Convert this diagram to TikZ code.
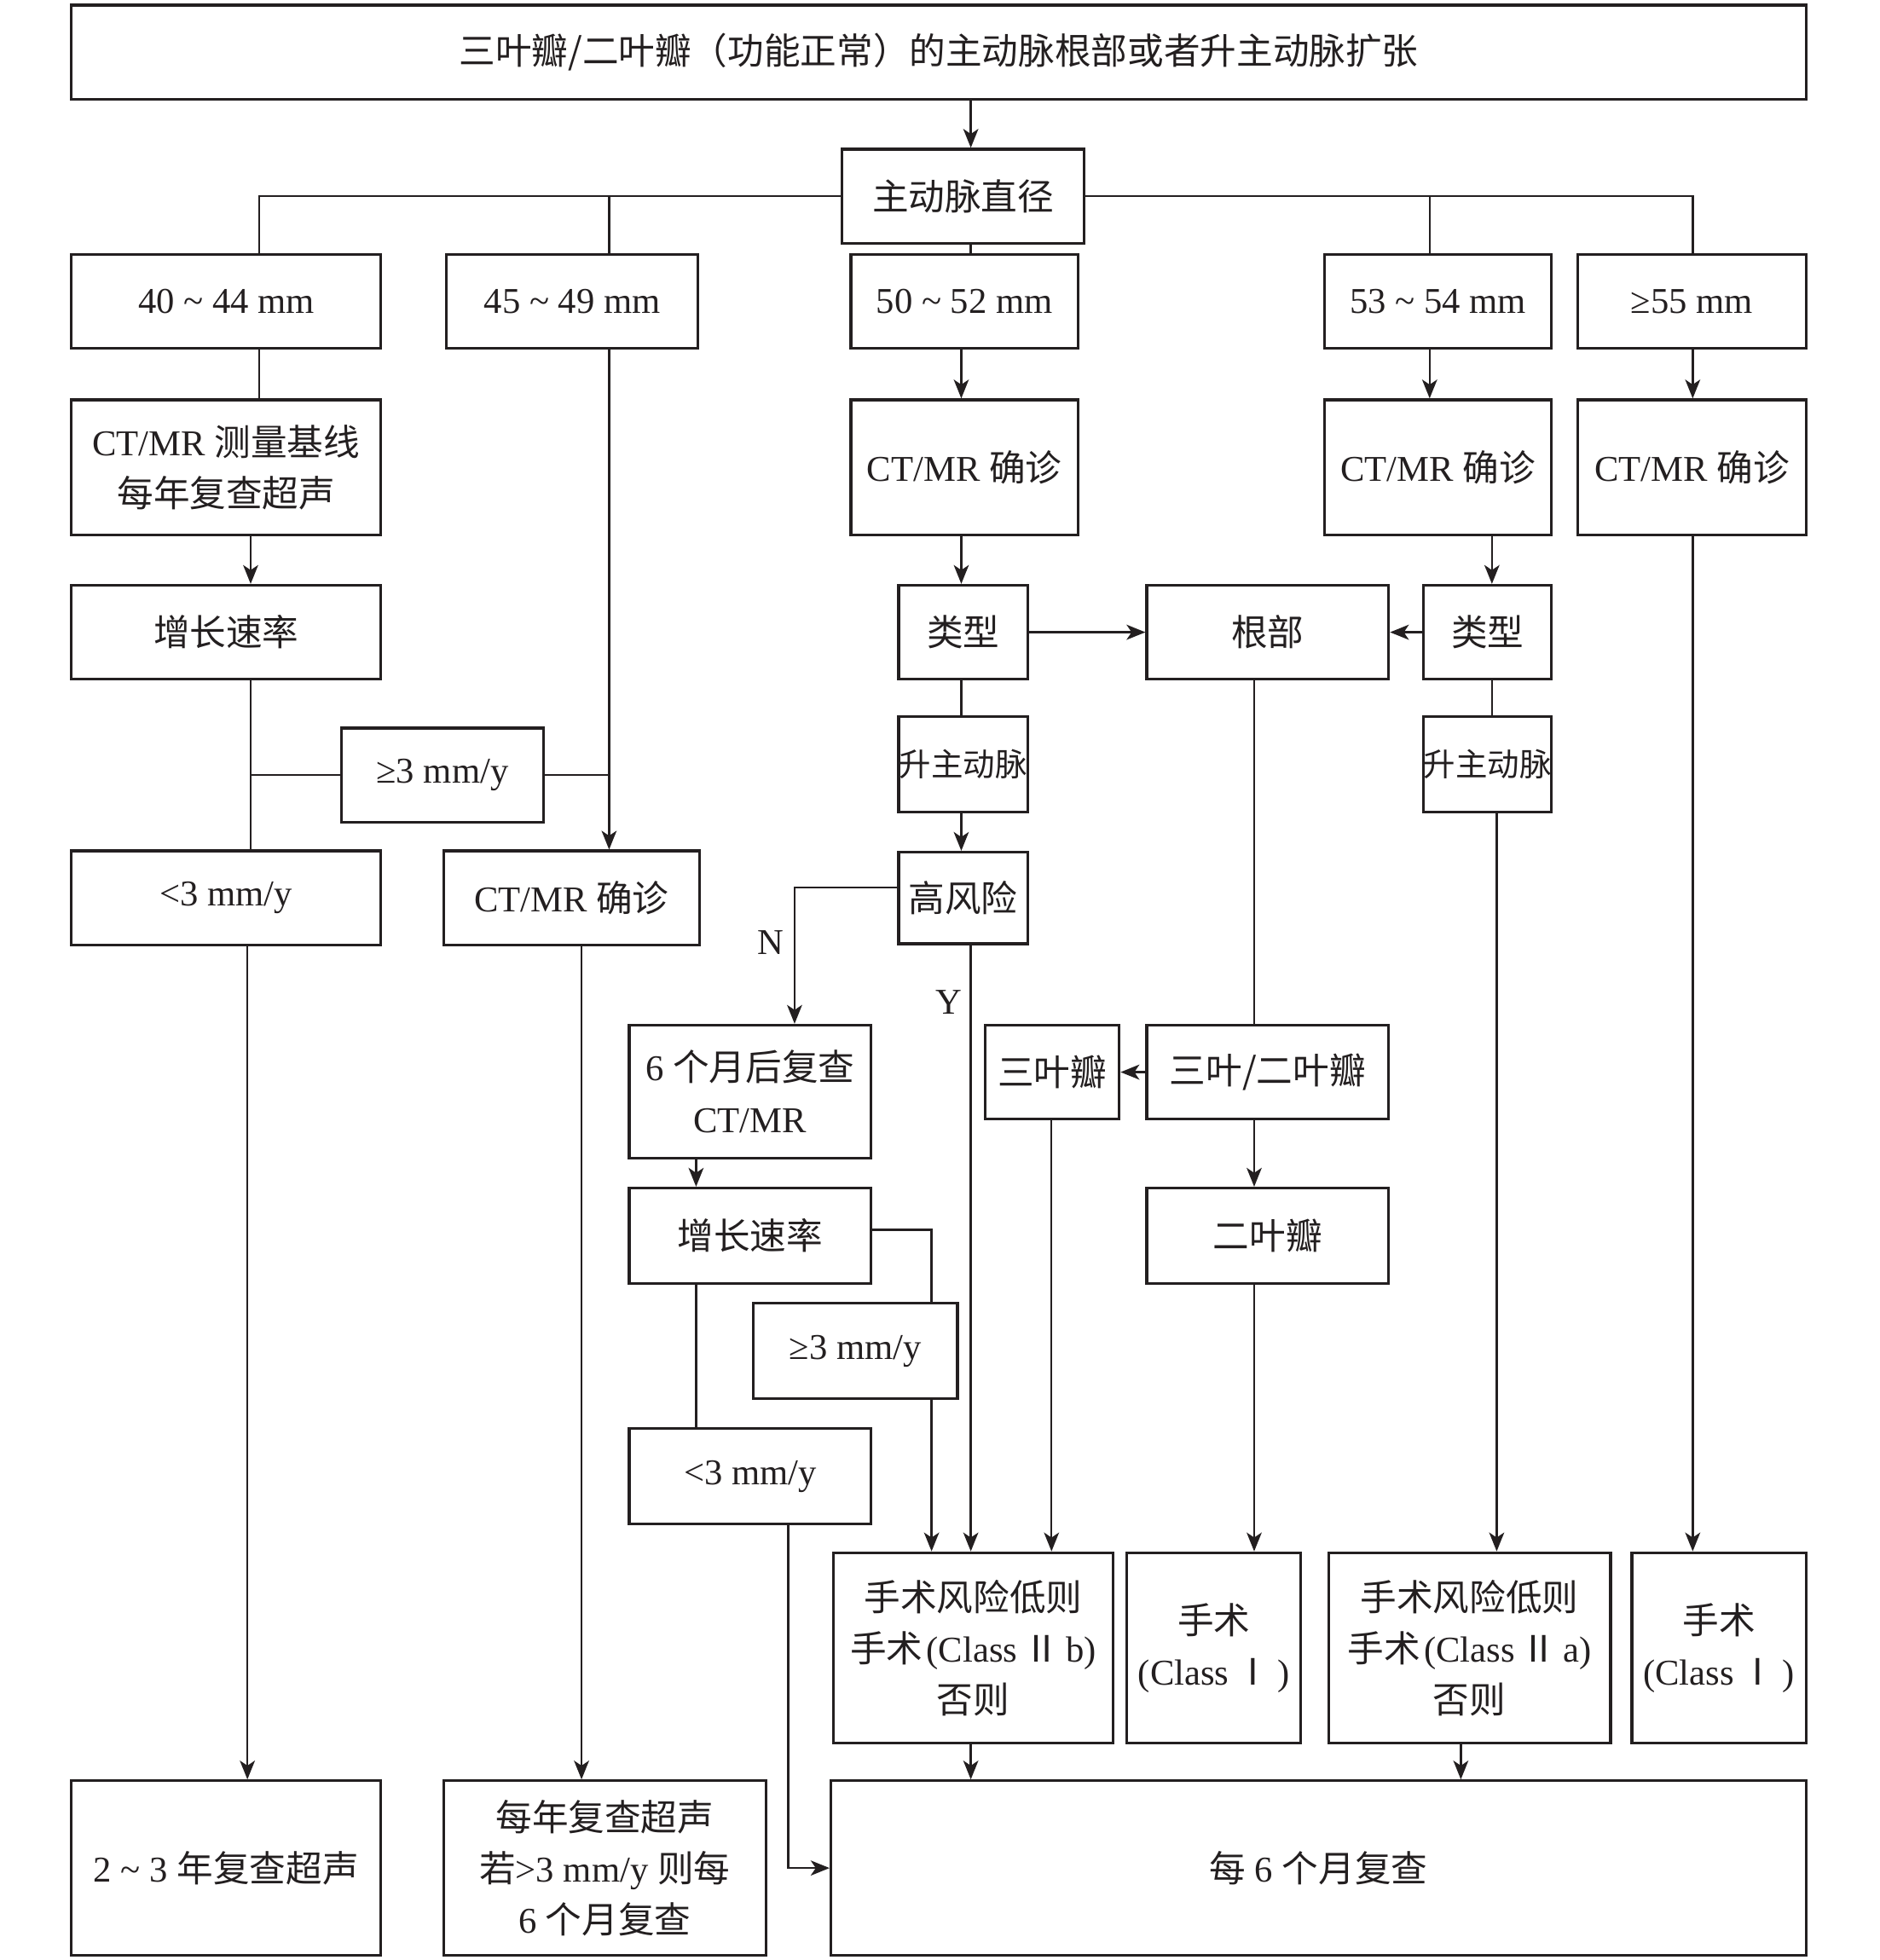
\documentclass[tikz,border=0pt]{standalone}
\usepackage{fontspec}
\setmainfont{Liberation Serif}
\newfontfamily\cjk{Noto Sans CJK SC}
\newcommand\zh[1]{{\cjk #1}}
\usetikzlibrary{arrows.meta}
\definecolor{ink}{HTML}{231F20}
\tikzset{
  box/.style={draw=ink, line width=2.2pt, rectangle, inner sep=0pt, align=center, text=ink,
              font=\fontsize{29}{41}\selectfont},
  bx/.style 2 args={box, minimum width=#1pt, minimum height=#2pt},
  conn/.style={draw=ink, line width=1.6pt},
  arr/.style={conn, -{Stealth[length=15pt,width=12pt,inset=4pt]}},
  lbl/.style={text=ink, font=\fontsize{29}{41}\selectfont, inner sep=0pt}
}
\begin{document}
\begin{tikzpicture}[x=1pt,y=-1pt]
\useasboundingbox (0,0) rectangle (1500,1564);
\fill[white] (0,0) rectangle (1500,1564);
% lanes
\coordinate (L197) at (197.4,0);
\coordinate (L200) at (200,0);
\coordinate (L207) at (207,0);
\coordinate (L464) at (464,0);
\coordinate (L486) at (486,0);
\coordinate (L555) at (555.4,0);
\coordinate (L629) at (629,0);
\coordinate (L634) at (634,0);
\coordinate (L743) at (743.3,0);
\coordinate (L767) at (767,0);
\coordinate (L775) at (774.6,0);
\coordinate (L839) at (839,0);
\coordinate (L1001) at (1000.7,0);
\coordinate (L1141) at (1140.7,0);
\coordinate (L1166) at (1165.6,0);
\coordinate (L1190) at (1190.4,0);
\coordinate (L1194) at (1194.2,0);
\coordinate (L1351) at (1350.6,0);
\coordinate (R708) at (0,708);
\coordinate (R981) at (0,981.3);
\coordinate (R1490) at (0,1490.6);

% nodes
\node[bx={1384}{75}] (title) at (749,41.5) {\zh{三叶瓣/二叶瓣（功能正常）的主动脉根部或者升主动脉扩张}};
\node[bx={193}{75}] (diam) at (768.5,156.5) {\zh{主动脉直径}};

\node[bx={247}{75}] (r40) at (180.5,240.5) {40 \textasciitilde{} 44 mm};
\node[bx={201}{75}] (r45) at (456.5,240.5) {45 \textasciitilde{} 49 mm};
\node[bx={181}{75}] (r50) at (769.5,240.5) {50 \textasciitilde{} 52 mm};
\node[bx={181}{75}] (r53) at (1147.5,240.5) {53 \textasciitilde{} 54 mm};
\node[bx={182}{75}] (r55) at (1350,240.5) {≥55 mm};

\node[bx={247}{108}] (base) at (180.5,373) {CT/MR \zh{测量基线}\\\zh{每年复查超声}};
\node[bx={181}{108}] (ct50) at (769.5,373) {CT/MR \zh{确诊}};
\node[bx={181}{108}] (ct53) at (1147.5,373) {CT/MR \zh{确诊}};
\node[bx={182}{108}] (ct55) at (1350,373) {CT/MR \zh{确诊}};

\node[bx={247}{75}] (gr1) at (180.5,504.5) {\zh{增长速率}};
\node[bx={103}{75}] (type1) at (768.5,504.5) {\zh{类型}};
\node[bx={193}{75}] (root) at (1011.5,504.5) {\zh{根部}};
\node[bx={102}{75}] (type2) at (1187,504.5) {\zh{类型}};

\node[bx={103}{76}, font=\fontsize{25.5}{30}\selectfont] (asc1) at (768.5,610) {\zh{升主动脉}};
\node[bx={102}{76}, font=\fontsize{25.5}{30}\selectfont] (asc2) at (1187,610) {\zh{升主动脉}};
\node[bx={161}{75}] (ge1) at (353,618.5) {≥3 mm/y};

\node[bx={247}{75}] (lt1) at (180.5,716.5) {<3 mm/y};
\node[bx={204}{75}] (ctc45) at (456,716.5) {CT/MR \zh{确诊}};
\node[bx={103}{73}] (hr) at (768.5,716.5) {\zh{高风险}};

\node[bx={193}{106}] (six) at (598.5,871) {6 \zh{个月后复查}\\CT/MR};
\node[bx={107}{75}] (tri) at (839.5,855.5) {\zh{三叶瓣}};
\node[bx={193}{75}] (tb) at (1011.5,855.5) {\zh{三叶/二叶瓣}};

\node[bx={193}{76}] (gr2) at (598.5,986) {\zh{增长速率}};
\node[bx={193}{76}] (bi) at (1011.5,986) {\zh{二叶瓣}};
\node[bx={163}{76}] (ge2) at (682.5,1078) {≥3 mm/y};
\node[bx={193}{76}] (lt2) at (598.5,1178) {<3 mm/y};

\node[bx={223}{152}] (IIb) at (776.5,1315) {\zh{手术风险低则}\\\zh{手术}\hspace{3pt}(Class\,\zh{Ⅱ}\,b)\\\zh{否则}};
\node[bx={139}{152}] (C1a) at (968.5,1315) {\zh{手术}\\(Class\,\zh{Ⅰ}\,)};
\node[bx={225}{152}] (IIa) at (1172.5,1315) {\zh{手术风险低则}\\\zh{手术}\hspace{3pt}(Class\,\zh{Ⅱ}\,a)\\\zh{否则}};
\node[bx={139}{152}] (C1b) at (1371.5,1315) {\zh{手术}\\(Class\,\zh{Ⅰ}\,)};

\node[bx={247}{139}] (y23) at (180.5,1490.5) {2 \textasciitilde{} 3 \zh{年复查超声}};
\node[bx={257}{139}] (ann) at (482.5,1490.5) {\zh{每年复查超声}\\\zh{若}>3 mm/y \zh{则每}\\6 \zh{个月复查}};
\node[bx={778}{139}] (six2) at (1052,1490.5) {\zh{每} 6 \zh{个月复查}};

% connectors
\draw[arr] (title.south -| L775) -- (diam.north -| L775);
\draw[conn] (diam.west) -- (diam.west -| L207) -- (r40.north -| L207);
\draw[conn] (L486 |- diam.west) -- (r45.north -| L486);
\draw[conn] (diam.east) -- (diam.east -| L1351) -- (r55.north -| L1351);
\draw[conn] (L1141 |- diam.east) -- (r53.north -| L1141);
\draw[conn] (diam.south -| L775) -- (r50.north -| L775);

\draw[conn] (r40.south -| L207) -- (base.north -| L207);
\draw[arr] (r50.south -| L767) -- (ct50.north -| L767);
\draw[arr] (r53.south -| L1141) -- (ct53.north -| L1141);
\draw[arr] (r55.south -| L1351) -- (ct55.north -| L1351);

\draw[arr] (base.south -| L200) -- (gr1.north -| L200);
\draw[arr] (ct50.south -| L767) -- (type1.north -| L767);
\draw[arr] (ct53.south -| L1190) -- (type2.north -| L1190);
\draw[arr] (type1.east) -- (root.west);
\draw[arr] (type2.west) -- (root.east);

\draw[conn] (type1.south -| L767) -- (asc1.north -| L767);
\draw[conn] (type2.south -| L1190) -- (asc2.north -| L1190);
\draw[arr] (asc1.south -| L767) -- (hr.north -| L767);

\draw[conn] (gr1.south -| L200) -- (lt1.north -| L200);
\draw[conn] (L200 |- ge1.west) -- (ge1.west);
\draw[conn] (ge1.east) -- (ge1.east -| L486);
\draw[arr] (r45.south -| L486) -- (ctc45.north -| L486);

\draw[arr] (hr.west |- R708) -- (L634 |- R708) -- (six.north -| L634);
\node[lbl] (nlab) at (615,752) {N};
\draw[arr] (hr.south -| L775) -- (IIb.north -| L775);
\node[lbl] (ylab) at (757,800) {Y};

\draw[conn] (root.south -| L1001) -- (tb.north -| L1001);
\draw[arr] (tb.west) -- (tri.east);
\draw[arr] (tb.south -| L1001) -- (bi.north -| L1001);

\draw[arr] (six.south -| L555) -- (gr2.north -| L555);
\draw[conn] (gr2.east |- R981) -- (L743 |- R981) -- (ge2.north -| L743);
\draw[arr] (ge2.south -| L743) -- (IIb.north -| L743);
\draw[conn] (gr2.south -| L555) -- (lt2.north -| L555);
\draw[arr] (lt2.south -| L629) -- (L629 |- R1490) -- (six2.west |- R1490);

\draw[arr] (tri.south -| L839) -- (IIb.north -| L839);
\draw[arr] (bi.south -| L1001) -- (C1a.north -| L1001);
\draw[arr] (asc2.south -| L1194) -- (IIa.north -| L1194);
\draw[arr] (ct55.south -| L1351) -- (C1b.north -| L1351);

\draw[arr] (lt1.south -| L197) -- (y23.north -| L197);
\draw[arr] (ctc45.south -| L464) -- (ann.north -| L464);
\draw[arr] (IIb.south -| L775) -- (six2.north -| L775);
\draw[arr] (IIa.south -| L1166) -- (six2.north -| L1166);
\end{tikzpicture}
\end{document}
